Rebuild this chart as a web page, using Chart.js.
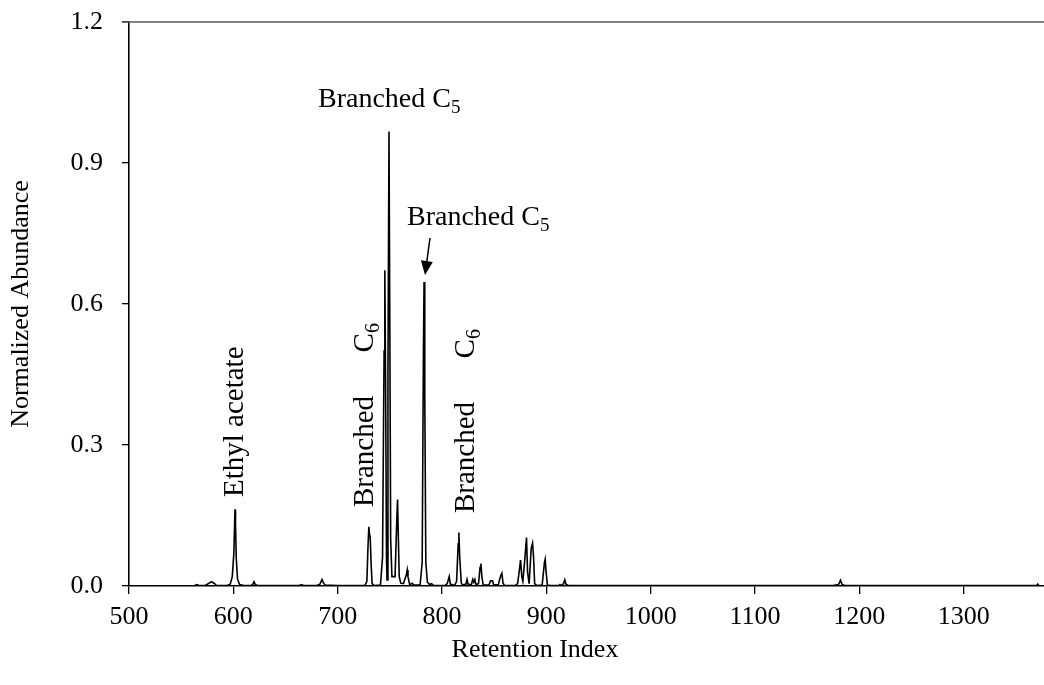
<!DOCTYPE html>
<html>
<head>
<meta charset="utf-8">
<script src="https://cdn.jsdelivr.net/npm/chart.js@4.4.1/dist/chart.umd.min.js"></script>
<style>
  html, body { margin: 0; padding: 0; background: #ffffff; }
  #wrap { width: 1044px; height: 685px; }
</style>
</head>
<body>
<div id="wrap"><canvas id="c" width="1044" height="685"></canvas></div>
<script>
// ---- data ----
const retentionIndex = [
  500, 560, 563, 565, 567, 573, 576, 579, 581.5, 584,
  594, 597, 599, 600.5, 601.2, 601.6, 602.1, 602.8, 604, 606,
  610, 617, 618.8, 619.8, 620.8, 623, 640, 663, 665.5, 667,
  680, 683, 685, 686.5, 688, 700, 726, 728, 729, 729.9,
  730.5, 731.2, 732, 733, 735, 741, 743, 744.5, 745.2, 745.9,
  746.8, 747.3, 748.2, 749.2, 749.9, 750.8, 752, 755, 756.8, 757.4,
  758, 759, 760.5, 763, 766, 766.7, 767.4, 769, 771.5, 773,
  779, 781, 782.2, 782.8, 783.5, 784.5, 786, 788, 790, 792,
  803, 805, 806.9, 808, 812, 814, 815.5, 816.2, 817, 818.5,
  820, 823, 824, 825, 828, 829.5, 830.5, 831.5, 832.5, 835,
  836.5, 837.3, 838.2, 839.5, 845, 846.5, 848.5, 849.5, 854, 856,
  857.4, 858.5, 860, 870, 872.5, 874.5, 875.3, 876.5, 877.5, 879.5,
  881, 882, 883.5, 885.5, 886.8, 887.8, 888.8, 891, 896, 898.2,
  898.9, 899.8, 901, 904, 912, 913, 914, 916.5, 917.7, 918.8,
  921, 1175, 1180, 1182, 1183.5, 1186, 1370, 1371, 1372, 1377
];
const abundance = [
  0, 0, 0.001, 0.003, 0.001, 0.001, 0.005, 0.009, 0.006, 0.001,
  0.001, 0.004, 0.02, 0.07, 0.13, 0.163, 0.13, 0.06, 0.015, 0.003,
  0.001, 0.001, 0.004, 0.009, 0.004, 0.001, 0.001, 0.001, 0.003, 0.001,
  0.001, 0.004, 0.014, 0.006, 0.002, 0.001, 0.001, 0.01, 0.08, 0.126,
  0.11, 0.104, 0.05, 0.005, 0.001, 0.002, 0.06, 0.5, 0.672, 0.45,
  0.06, 0.013, 0.45, 0.967, 0.6, 0.1, 0.02, 0.02, 0.15, 0.184,
  0.12, 0.02, 0.006, 0.005, 0.025, 0.034, 0.02, 0.003, 0.006, 0.002,
  0.002, 0.05, 0.5, 0.647, 0.4, 0.05, 0.008, 0.003, 0.005, 0.001,
  0.001, 0.005, 0.02, 0.004, 0.001, 0.01, 0.09, 0.114, 0.06, 0.006,
  0.002, 0.004, 0.014, 0.004, 0.002, 0.014, 0.008, 0.014, 0.003, 0.005,
  0.04, 0.048, 0.02, 0.002, 0.002, 0.011, 0.011, 0.002, 0.003, 0.02,
  0.027, 0.006, 0.001, 0.001, 0.005, 0.04, 0.055, 0.02, 0.01, 0.06,
  0.103, 0.03, 0.005, 0.08, 0.091, 0.06, 0.005, 0.001, 0.002, 0.05,
  0.057, 0.03, 0.002, 0.001, 0.001, 0.003, 0.001, 0.005, 0.013, 0.004,
  0.001, 0.001, 0.003, 0.012, 0.003, 0.001, 0.001, 0.004, 0.001, 0
];
const xTicks = [500, 600, 700, 800, 900, 1000, 1100, 1200, 1300];
const xTickLabels = ['500', '600', '700', '800', '900', '1000', '1100', '1200', '1300'];
const yTicks = [0, 0.3, 0.6, 0.9, 1.2];
const yTickLabels = ['0.0', '0.3', '0.6', '0.9', '1.2'];
const xTitle = 'Retention Index';
const yTitle = 'Normalized Abundance';
const xRange = [500, 1377];
const yRange = [0, 1.2];

// annotation texts: [main, subscript]
const labelTopC5 = ['Branched C', '5'];
const labelArrowC5 = ['Branched C', '5'];
const labelEthyl = ['Ethyl acetate', ''];
const labelC6a = ['Branched      C', '6'];
const labelC6b = ['Branched      C', '6'];

const FONT = '"Liberation Serif", "Times New Roman", serif';

const points = retentionIndex.map((x, i) => ({ x: x, y: abundance[i] }));

function drawSubText(ctx, x, y, parts, size) {
  ctx.font = size + 'px ' + FONT;
  ctx.textAlign = 'left';
  ctx.textBaseline = 'alphabetic';
  ctx.fillText(parts[0], x, y);
  const w = ctx.measureText(parts[0]).width;
  if (parts[1]) {
    ctx.font = Math.round(size * 0.68) + 'px ' + FONT;
    ctx.fillText(parts[1], x + w, y + 6);
  }
}

const annotate = {
  id: 'annotate',
  beforeDatasetsDraw(chart) {
    const ctx = chart.ctx;
    const a = chart.chartArea;
    ctx.save();
    ctx.strokeStyle = '#595959';
    ctx.lineWidth = 1.6;
    ctx.beginPath();
    ctx.moveTo(a.left - 7, a.top);
    ctx.lineTo(a.right, a.top);
    ctx.stroke();
    ctx.restore();
  },
  afterDatasetsDraw(chart) {
    const ctx = chart.ctx;
    ctx.save();
    ctx.fillStyle = '#000';
    // x axis title
    ctx.font = '26px ' + FONT;
    ctx.textAlign = 'center';
    ctx.textBaseline = 'middle';
    ctx.fillText(xTitle, 535, 650);
    // horizontal labels
    drawSubText(ctx, 318, 107, labelTopC5, 28);
    drawSubText(ctx, 407, 225, labelArrowC5, 28);
    // arrow
    const x0 = 430, y0 = 238, x1 = 425, y1 = 275;
    const ang = Math.atan2(y1 - y0, x1 - x0);
    const hl = 14, hw = 6;
    const bx = x1 - hl * Math.cos(ang), by = y1 - hl * Math.sin(ang);
    ctx.strokeStyle = '#000';
    ctx.lineWidth = 1.5;
    ctx.beginPath();
    ctx.moveTo(x0, y0);
    ctx.lineTo(bx, by);
    ctx.stroke();
    ctx.beginPath();
    ctx.moveTo(x1, y1);
    ctx.lineTo(bx + hw * Math.sin(ang), by - hw * Math.cos(ang));
    ctx.lineTo(bx - hw * Math.sin(ang), by + hw * Math.cos(ang));
    ctx.closePath();
    ctx.fill();
    // rotated labels
    const rot = (x, y, parts) => {
      ctx.save();
      ctx.translate(x, y);
      ctx.rotate(-Math.PI / 2);
      drawSubText(ctx, 0, 0, parts, 29);
      ctx.restore();
    };
    rot(243, 497, labelEthyl);
    rot(373, 507, labelC6a);
    rot(474, 513, labelC6b);
    ctx.restore();
  }
};

new Chart(document.getElementById('c'), {
  type: 'line',
  data: {
    datasets: [{
      data: points,
      borderColor: '#000000',
      borderWidth: 1.6,
      pointRadius: 0,
      tension: 0,
      fill: false
    }]
  },
  options: {
    responsive: false,
    animation: false,
    devicePixelRatio: 1,
    layout: { padding: { left: 0, right: 0, top: 22, bottom: 0 } },
    plugins: { legend: { display: false }, tooltip: { enabled: false } },
    scales: {
      x: {
        type: 'linear',
        min: xRange[0],
        max: xRange[1],
        afterBuildTicks: s => { s.ticks = xTicks.map(v => ({ value: v })); },
        afterFit: s => { s.height = 99; s.paddingLeft = 0; s.paddingRight = 0; },
        ticks: {
          callback: (v, i) => xTickLabels[i],
          font: { family: FONT, size: 26 },
          color: '#000',
          padding: 8,
          maxRotation: 0,
          autoSkip: false
        },
        grid: { display: true, drawOnChartArea: false, drawTicks: true, tickLength: 8, color: '#000', lineWidth: 1.3 },
        border: { display: true, color: '#000', width: 1.6 },
        title: { display: false, text: xTitle }
      },
      y: {
        type: 'linear',
        min: yRange[0],
        max: yRange[1],
        afterBuildTicks: s => { s.ticks = yTicks.map(v => ({ value: v })); },
        afterFit: s => { s.width = 129; s.paddingTop = 0; s.paddingBottom = 0; },
        ticks: {
          callback: (v, i) => yTickLabels[i],
          font: { family: FONT, size: 26 },
          color: '#000',
          padding: 19
        },
        grid: { display: true, drawOnChartArea: false, drawTicks: true, tickLength: 7, color: '#000', lineWidth: 1.3 },
        border: { display: true, color: '#000', width: 1.6 },
        title: { display: true, text: yTitle, font: { family: FONT, size: 26 }, color: '#000', padding: { top: 6, bottom: 0 } }
      }
    }
  },
  plugins: [annotate]
});
</script>
</body>
</html>
